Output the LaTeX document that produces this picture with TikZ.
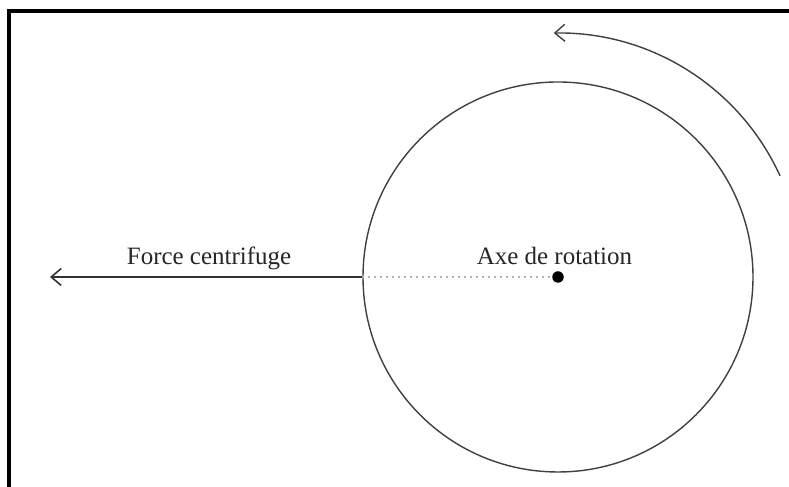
\documentclass[tikz,border=0pt]{standalone}
\usepackage{fontspec}
\setmainfont{Liberation Serif}
\usetikzlibrary{arrows.meta}

\begin{document}
\begin{tikzpicture}[every node/.style={font=\fontsize{14.2}{17}\selectfont, text=black!85}, >={Straight Barb[length=2mm, width=3.4mm]}]
	\useasboundingbox (0,0) rectangle (15.78,9.74);
	\draw[line width=1.8pt] (0.18,0) -- (0.18,9.52) -- (15.78,9.52);
	\coordinate (centre) at (11.16,4.20);
	\coordinate (bout) at (1.00,4.20);
	\node[circle, draw=black!75, line width=0.8pt, inner sep=0pt, minimum size=7.8cm] (roue) at (centre) {};
	\fill[black] (centre) circle (0.115) node (axe) {};
	\draw[dash pattern=on 0.035cm off 0.085cm, gray!60, line width=0.6pt] (roue.west) -- (axe);
	\draw[->, black!80, line width=0.9pt] (roue.west) -- (bout);
	\node[anchor=base] (force) at (4.18,4.44) {Force centrifuge};
	\node[anchor=base] (rotation) at (11.09,4.44) {Axe de rotation};
	\draw[->, black!75, line width=0.8pt] ([shift={(24.5:4.88)}]centre) arc (24.5:91:4.88);
\end{tikzpicture}
\end{document}
